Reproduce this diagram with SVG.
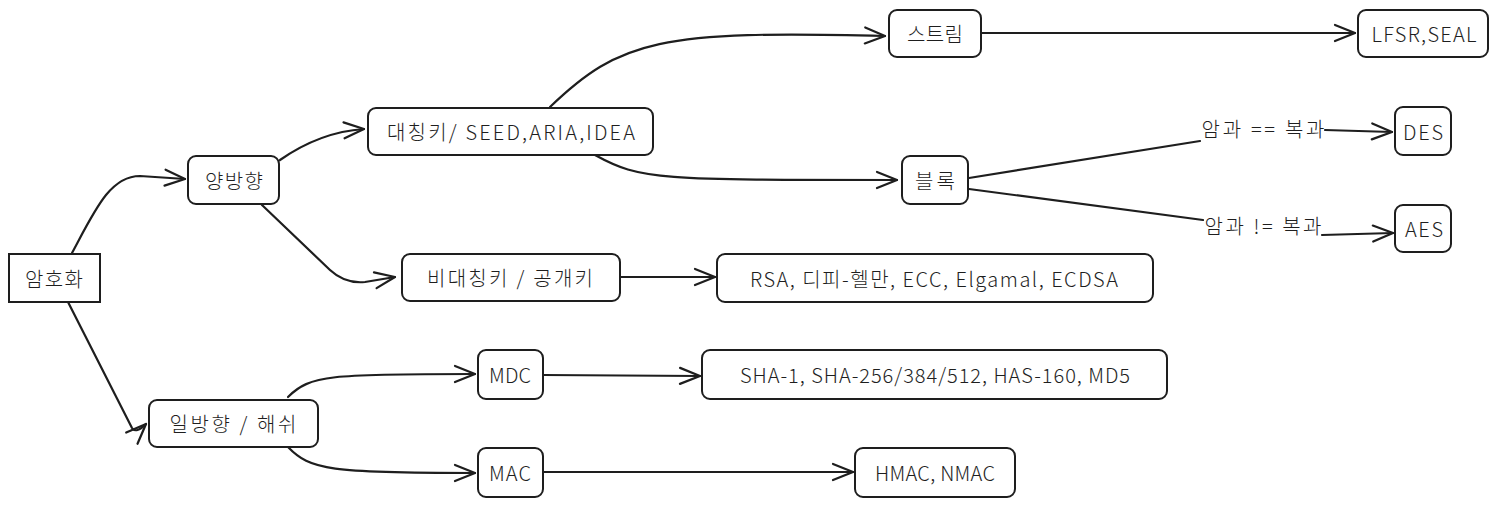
<svg xmlns="http://www.w3.org/2000/svg" width="1498" height="506" viewBox="0 0 1498 506">
<style>
.n{fill:#fff;stroke:#1e1e1e;stroke-width:2}
.t{font-family:"Noto Sans CJK KR","Liberation Sans",sans-serif;font-size:20px;fill:#1e1e1e;text-anchor:middle;dominant-baseline:central;font-weight:300}
.c{fill:none;stroke:#1e1e1e;stroke-width:2.2;stroke-linecap:round;stroke-linejoin:round}
</style>
<defs>
<marker id="a" viewBox="0 0 24 24" refX="22" refY="12" markerWidth="24" markerHeight="24" markerUnits="userSpaceOnUse" orient="auto">
<path d="M2 4 L22 12 L2 20" fill="none" stroke="#1e1e1e" stroke-width="2.2" stroke-linecap="round" stroke-linejoin="round"/>
</marker>
</defs>
<g id="connectors">
<path class="c" d="M72 253 C 95 210, 110 176, 140 176 L 185 179" marker-end="url(#a)"/>
<path class="c" d="M68 302 L 132 428 Q 136 434 146 424" marker-end="url(#a)"/>
<path class="c" d="M280 160 Q 320 132 364 129" marker-end="url(#a)"/>
<path class="c" d="M262 205 L 330 270 Q 345 284 365 282 L 395 277" marker-end="url(#a)"/>
<path class="c" d="M550 107 C 620 40, 660 30, 885 36" marker-end="url(#a)"/>
<path class="c" d="M595 155 C 640 180, 660 180, 897 180" marker-end="url(#a)"/>
<path class="c" d="M620 277 L 715 277" marker-end="url(#a)"/>
<path class="c" d="M981 33 L 1355 33" marker-end="url(#a)"/>
<path class="c" d="M969 178 L 1200 141"/>
<path class="c" d="M1325 130 L 1392 132" marker-end="url(#a)"/>
<path class="c" d="M969 189 L 1203 220"/>
<path class="c" d="M1322 235 L 1393 233" marker-end="url(#a)"/>
<path class="c" d="M288 397 C 310 375, 330 374, 475 374" marker-end="url(#a)"/>
<path class="c" d="M288 447 C 310 470, 330 473, 475 473" marker-end="url(#a)"/>
<path class="c" d="M543 375 L 700 376" marker-end="url(#a)"/>
<path class="c" d="M543 472 L 853 472" marker-end="url(#a)"/>
</g>
<g id="n-amhohwa"><rect class="n" x="9" y="254" width="91" height="48"/><text class="t" x="54" y="278" textLength="58" lengthAdjust="spacing">암호화</text></g>
<g id="n-yangbang"><rect class="n" x="188" y="156" width="91" height="48" rx="8"/><text class="t" x="234" y="180" textLength="58" lengthAdjust="spacing">양방향</text></g>
<g id="n-sym"><rect class="n" x="368" y="108" width="285" height="47" rx="8"/><text class="t" x="511" y="131" textLength="248" lengthAdjust="spacing">대칭키/ SEED,ARIA,IDEA</text></g>
<g id="n-asym"><rect class="n" x="402" y="254" width="218" height="47" rx="8"/><text class="t" x="510" y="277" textLength="166" lengthAdjust="spacing">비대칭키 / 공개키</text></g>
<g id="n-rsa"><rect class="n" x="717" y="254" width="436" height="48" rx="8"/><text class="t" x="934" y="278" textLength="368" lengthAdjust="spacing">RSA, 디피-헬만, ECC, Elgamal, ECDSA</text></g>
<g id="n-stream"><rect class="n" x="889" y="10" width="92" height="47" rx="8"/><text class="t" x="935" y="33" textLength="56" lengthAdjust="spacing">스트림</text></g>
<g id="n-lfsr"><rect class="n" x="1358" y="10" width="130" height="47" rx="8"/><text class="t" x="1424" y="33" textLength="105" lengthAdjust="spacing">LFSR,SEAL</text></g>
<g id="n-block"><rect class="n" x="902" y="156" width="66" height="48" rx="8"/><text class="t" x="935" y="180" textLength="40" lengthAdjust="spacing">블록</text></g>
<g id="n-des"><rect class="n" x="1395" y="107" width="56" height="48" rx="8"/><text class="t" x="1423" y="131" textLength="40" lengthAdjust="spacing">DES</text></g>
<g id="n-aes"><rect class="n" x="1395" y="205" width="56" height="47" rx="8"/><text class="t" x="1424" y="228" textLength="38" lengthAdjust="spacing">AES</text></g>
<g id="n-mdc"><rect class="n" x="478" y="350" width="65" height="49" rx="8"/><text class="t" x="510" y="374" textLength="42" lengthAdjust="spacing">MDC</text></g>
<g id="n-sha"><rect class="n" x="702" y="350" width="465" height="49" rx="8"/><text class="t" x="935" y="374" textLength="390" lengthAdjust="spacing">SHA-1, SHA-256/384/512, HAS-160, MD5</text></g>
<g id="n-ilbang"><rect class="n" x="149" y="400" width="169" height="47" rx="8"/><text class="t" x="233" y="423" textLength="127" lengthAdjust="spacing">일방향 / 해쉬</text></g>
<g id="n-mac"><rect class="n" x="478" y="448" width="65" height="49" rx="8"/><text class="t" x="510" y="472" textLength="42" lengthAdjust="spacing">MAC</text></g>
<g id="n-hmac"><rect class="n" x="855" y="448" width="160" height="49" rx="8"/><text class="t" x="935" y="472" textLength="120" lengthAdjust="spacing">HMAC, NMAC</text></g>
<g id="labels">
<text class="t" x="1263" y="128" textLength="123" lengthAdjust="spacing">암과 == 복과</text>
<text class="t" x="1263" y="225" textLength="117" lengthAdjust="spacing">암과 != 복과</text>
</g>
</svg>
